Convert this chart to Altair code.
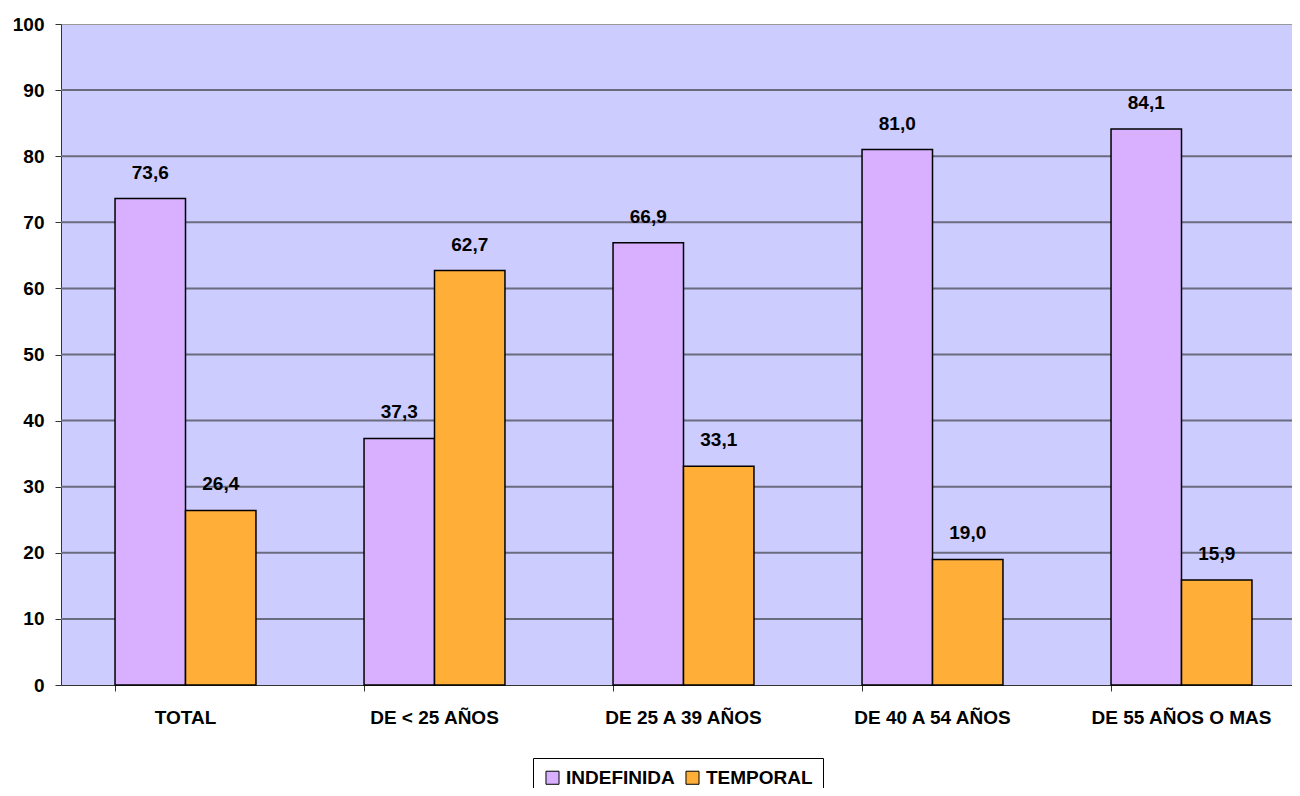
import altair as alt
import pandas as pd

categories = ["TOTAL", "DE < 25 AÑOS", "DE 25 A 39 AÑOS", "DE 40 A 54 AÑOS", "DE 55 AÑOS O MAS"]
series = ["INDEFINIDA", "TEMPORAL"]
indefinida = [73.6, 37.3, 66.9, 81.0, 84.1]
temporal = [26.4, 62.7, 33.1, 19.0, 15.9]
y_ticks = list(range(0, 101, 10))
grid_lines = list(range(10, 100, 10))
colors = ["#D9B0FF", "#FFAE38"]

rows = []
for c, a, b in zip(categories, indefinida, temporal):
    rows.append({"cat": c, "serie": series[0], "val": a, "lbl": f"{a:.1f}".replace(".", ",")})
    rows.append({"cat": c, "serie": series[1], "val": b, "lbl": f"{b:.1f}".replace(".", ",")})
df = pd.DataFrame(rows)
gdf = pd.DataFrame({"g": grid_lines})

FONT = "Liberation Sans"
FS = 19

x = alt.X("cat:N", sort=categories, title=None,
          scale=alt.Scale(paddingInner=0.434, paddingOuter=0.217, range=[0, 1245]),
          axis=alt.Axis(labelAngle=0, labelFont=FONT, labelFontSize=FS, labelFontWeight="bold",
                        labelColor="black", labelPadding=17, labelLimit=0, domainColor="#333333",
                        tickColor="#333333", tickSize=6, bandPosition=0, grid=False))
xo = alt.XOffset("serie:N", sort=series, scale=alt.Scale(paddingInner=0, paddingOuter=0))
yscale = alt.Scale(domain=[0, 100], nice=False)
yaxis = alt.Axis(values=y_ticks, labelFont=FONT, labelFontSize=FS,
                 labelFontWeight="bold", labelColor="black", labelPadding=11,
                 domainColor="#333333", tickColor="#333333", tickSize=6, grid=False)

grid = alt.Chart(gdf).mark_rule(color="#6B6B7F", strokeWidth=2).encode(
    y=alt.Y("g:Q", scale=yscale, axis=yaxis, title=None),
    x=alt.value(0), x2=alt.value(1245),
)

bars = alt.Chart(df).mark_bar(stroke="black", strokeWidth=1.5).encode(
    x=x, xOffset=xo, y=alt.Y("val:Q", title=None, scale=yscale, axis=yaxis),
    color=alt.Color("serie:N", sort=series, title=None,
                    scale=alt.Scale(domain=series, range=colors),
                    legend=alt.Legend(orient="none", legendX=472, legendY=734, direction="horizontal",
                                      symbolType="square", symbolSize=170, symbolStrokeColor="black",
                                      symbolStrokeWidth=1, labelFont=FONT, labelFontSize=FS,
                                      labelFontWeight="bold", labelColor="black",
                                      strokeColor="black", padding=10, columnPadding=8,
                                      labelOffset=4, fillColor="white")),
)

labels = alt.Chart(df).mark_text(font=FONT, fontSize=FS, fontWeight="bold", color="black",
                                 dy=-26, baseline="middle").encode(
    x=alt.X("cat:N", sort=categories, title=None), xOffset=xo,
    y=alt.Y("val:Q", title=None, scale=yscale, axis=yaxis), text="lbl:N"
)

chart = (grid + bars + labels).properties(
    width=1231, height=661,
    autosize=alt.AutoSizeParams(type="none"),
    padding={"left": 53, "top": 16, "right": 0, "bottom": 103},
    background="white",
).configure_view(fill="#CCCCFF", stroke="#999999", strokeWidth=1)

chart.save("out.html", embed_options={"renderer": "svg", "actions": False})
